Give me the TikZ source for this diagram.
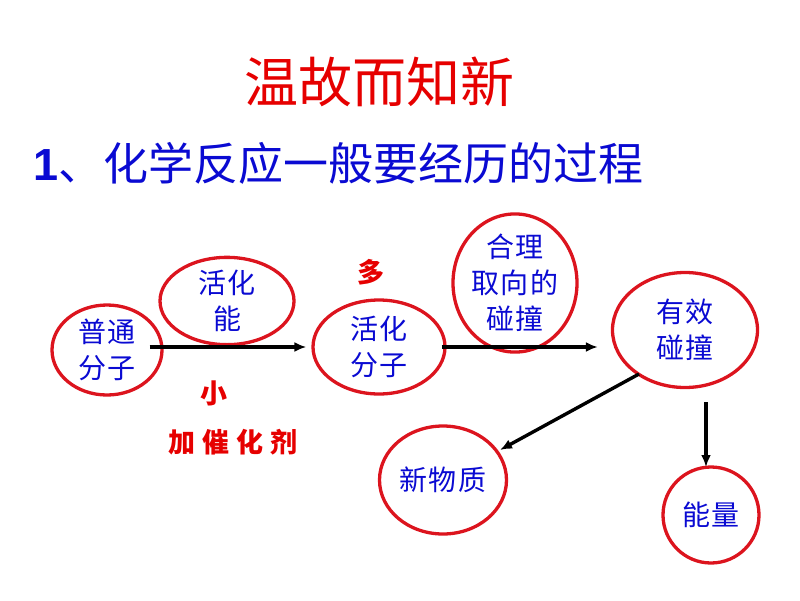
\documentclass[tikz,border=0pt]{standalone}
\usepackage{fontspec}
\setmainfont{Liberation Sans}
\newfontfamily\cjk{Noto Sans CJK SC}
\usetikzlibrary{shapes.geometric,arrows.meta,calc}
\definecolor{ered}{RGB}{220,20,30}
\definecolor{tred}{RGB}{230,0,0}
\definecolor{eblue}{RGB}{10,10,210}
\tikzset{
  bub/.style={ellipse, draw=ered, line width=3.3pt, inner sep=0pt,
    font=\fontsize{28}{36}\selectfont\cjk\addfontfeature{LetterSpace=6}, text=eblue, align=center},
  conn/.style={line width=3.4pt, -{Latex[length=12pt,width=10pt]}},
  hand/.style={text=tred, font=\fontsize{27}{30}\selectfont\cjk\bfseries, inner sep=0pt}
}
\begin{document}
\begin{tikzpicture}[x=1pt,y=-1pt]
\useasboundingbox (0,0) rectangle (800,600);
\node[text=tred, font=\fontsize{54}{60}\selectfont\cjk, inner sep=0pt] (title) at (379,82) {温故而知新};
\node[text=eblue, font=\fontsize{45}{50}\selectfont, anchor=west, inner sep=0pt] (sub) at (33,163) {\textbf{1}\cjk 、化学反应一般要经历的过程};

\node[bub, minimum width=110pt, minimum height=90pt] (a) at (107,350) {普通\\分子};
\node[bub, minimum width=134pt, minimum height=79pt] (ea) at (227,301) {活化\\能};
\node[bub, minimum width=132pt, minimum height=94pt] (b) at (379,347) {活化\\分子};
\node[bub, minimum width=124pt, minimum height=113pt] (c) at (515,283) {合理\\取向的\\碰撞};
\node[bub, minimum width=145pt, minimum height=115pt] (e) at (685,330) {有效\\碰撞};
\node[bub, minimum width=127pt, minimum height=108pt] (n) at (443,480) {新物质};
\node[bub, minimum width=96pt, minimum height=96pt] (g) at (711,515) {能量};

\node[hand] (duo) at (371,272) {多};
\node[hand] (xiao) at (214,393) {小};
\node[hand] (cat) at (233,442) {加\hspace{7pt}催\hspace{7pt}化\hspace{7pt}剂};

\draw[conn] ($(a.east |- b.west)+(-14,0)$) -- ($(b.west)+(-5,0)$);
\draw[conn] ($(b.east)+(-5,0)$) -- ($(b.east -| e.west)+(-13,0)$);
\draw[conn] ($(e.center)+(-46,44)$) -- ($(n.center)+(57,-30)$);
\draw[conn] ($(e.center)+(21,72)$) -- ($(g.center)+(-5,-48)$);
\end{tikzpicture}
\end{document}
